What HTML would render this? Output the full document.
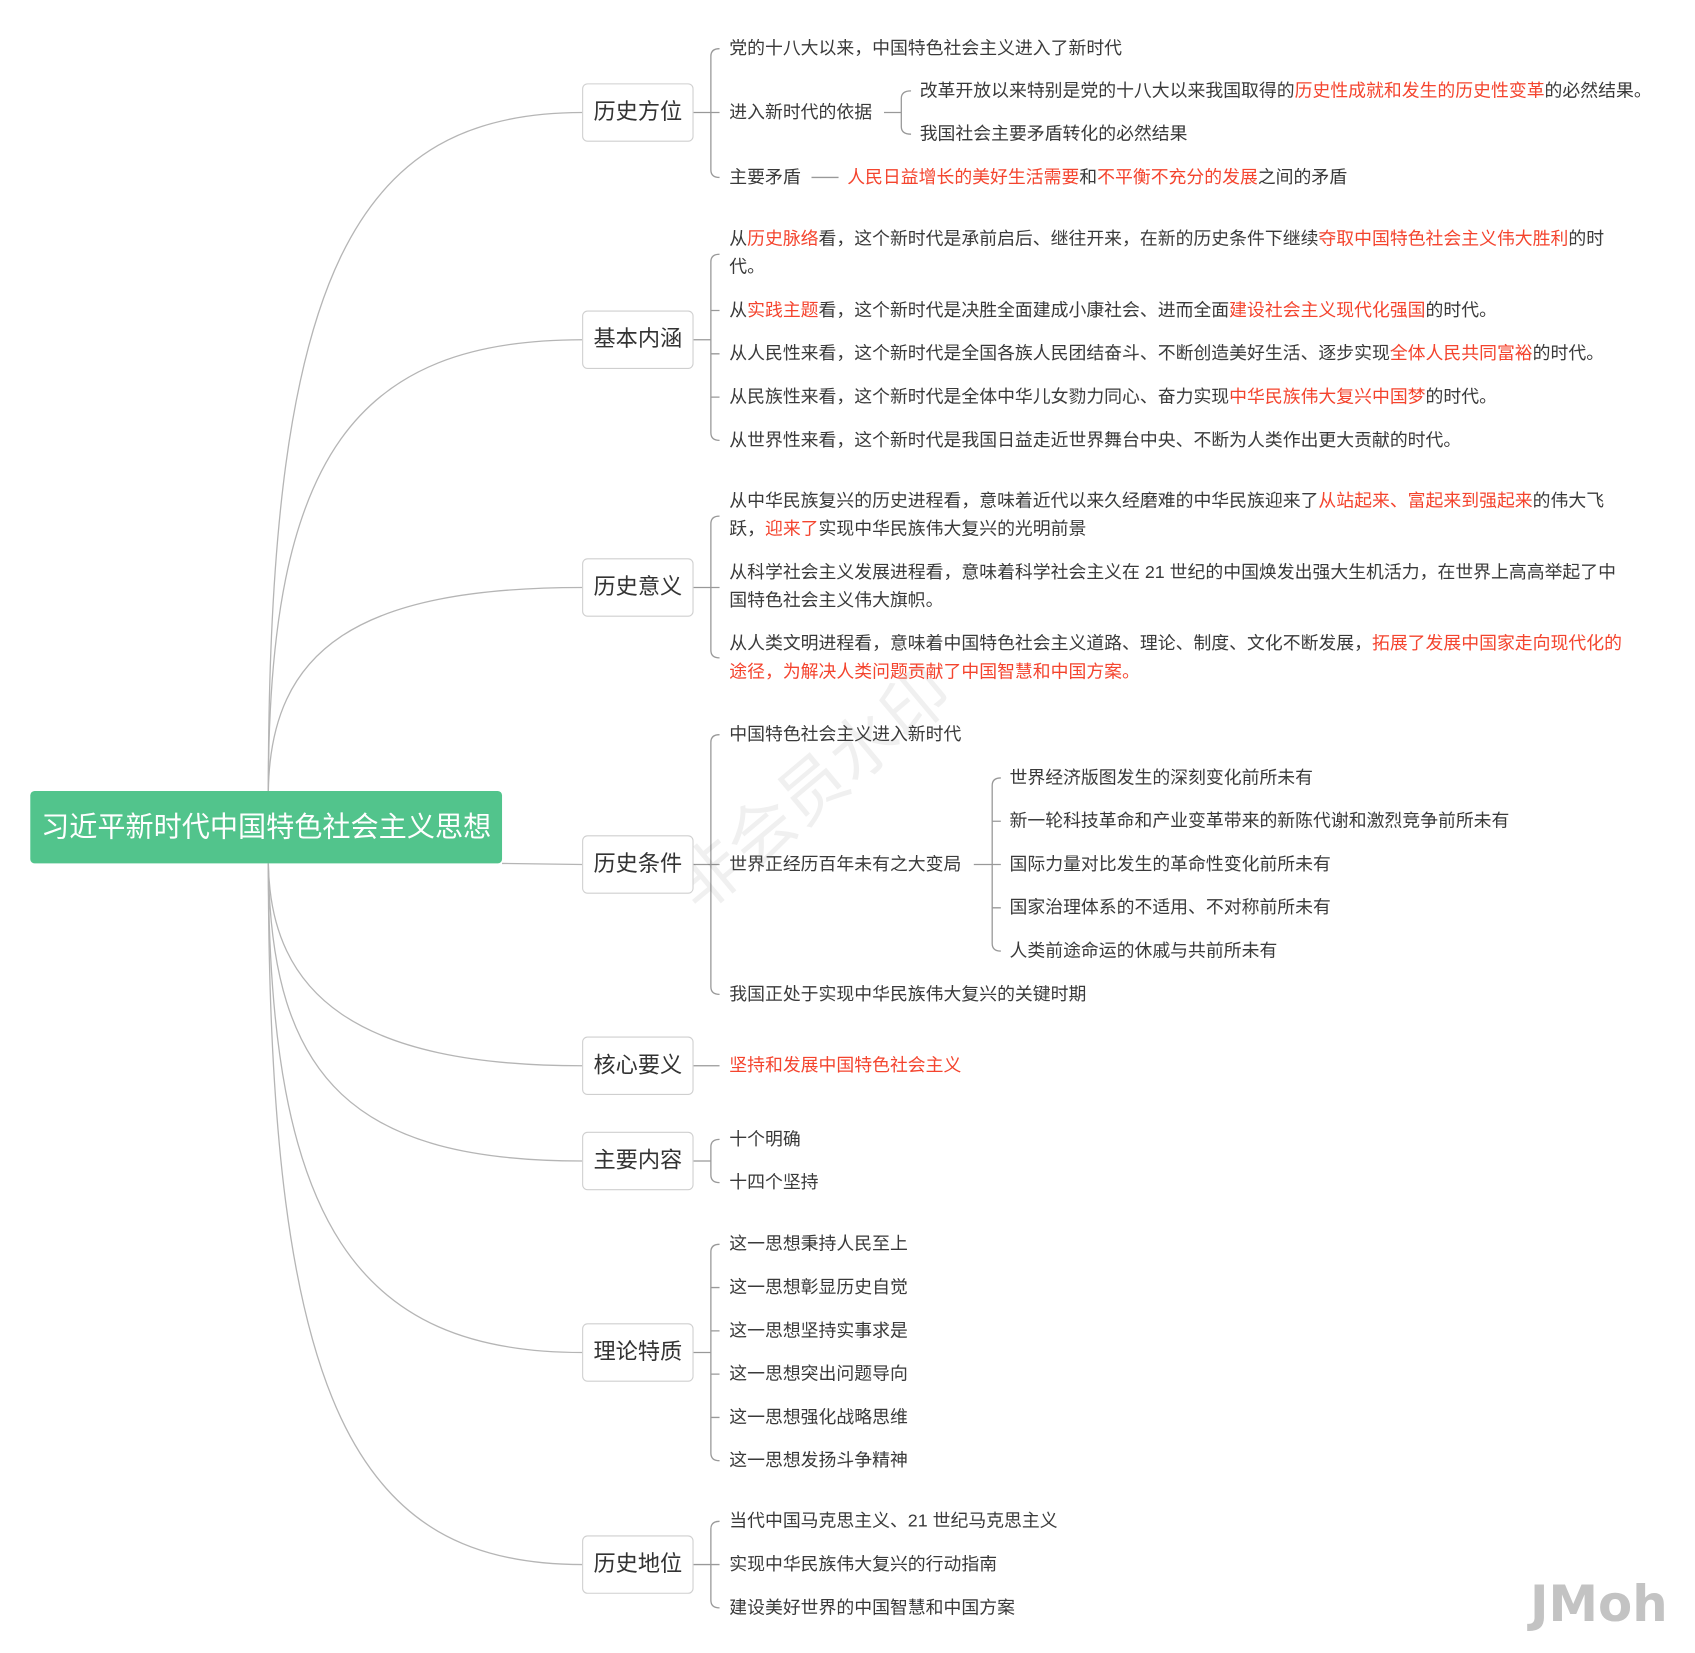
<!DOCTYPE html>
<html><head><meta charset="utf-8">
<style>
html,body{margin:0;padding:0;background:#fff;}
body{width:1695px;height:1653px;overflow:hidden;position:relative;}
#w{position:absolute;left:0;top:0;width:1560px;height:1522px;transform:scale(1.082);transform-origin:0 0;font-family:"Liberation Sans","Noto Sans CJK SC",sans-serif;}
svg{position:absolute;left:0;top:0;}
.t{position:absolute;font-size:16.5px;line-height:26px;color:#3a3a3a;white-space:nowrap;}
.r{color:#f4442e;}
.n{position:absolute;left:538px;width:101px;height:52px;border:1px solid #cfcfcf;border-radius:5px;background:#fff;font-size:20.5px;line-height:52px;text-align:center;color:#333;}
#root{position:absolute;left:28px;top:731px;width:436px;height:67px;background:#52c48c;border-radius:4px;color:#fff;font-size:26px;line-height:67px;text-align:center;}
#wm{position:absolute;left:600px;top:790px;font-size:62px;color:rgba(0,0,0,0.06);transform:rotate(-40deg);transform-origin:0 0;white-space:nowrap;}
#jm{position:absolute;left:1414px;top:1455px;font-size:46px;font-weight:bold;color:#c3c3c3;font-family:"DejaVu Sans","Liberation Sans",sans-serif;}
</style></head><body><div id="w">
<svg width="1560" height="1522" fill="none" stroke="#b5b5b5" stroke-width="1.2">
<path d="M248,731 C248,250 330,104 538,104"/>
<path d="M248,731 C248,420 330,314 538,314"/>
<path d="M248,731 C250,600 330,543 538,543"/>
<path d="M464,798 L538,799"/>
<path d="M248,798 C250,920 330,985 538,985"/>
<path d="M248,798 C250,1000 330,1073 538,1073"/>
<path d="M248,798 C248,1130 330,1250 538,1250"/>
<path d="M248,798 C248,1300 330,1446 538,1446"/>
<g stroke="#999">
<path d="M641,104 L657,104 M665,45 Q657,45 657,52 L657,157 Q657,164 665,164 M657,104 L665,104"/>
<path d="M817,104 L833,104 M842,84 Q833,84 833,91 L833,117 Q833,124 842,124"/>
<path d="M750,164 L775,164"/>
<path d="M641,314 L657,314 M665,235 Q657,235 657,242 L657,400 Q657,407 665,407 M657,287 L665,287 M657,327 L665,327 M657,367 L665,367"/>
<path d="M641,543 L657,543 M665,477 Q657,477 657,484 L657,601 Q657,608 665,608 M657,543 L665,543"/>
<path d="M641,799 L657,799 M665,679 Q657,679 657,686 L657,912 Q657,919 665,919 M657,799 L665,799"/>
<path d="M900,799 L917,799 M925,719 Q917,719 917,726 L917,872 Q917,879 925,879 M917,759 L925,759 M917,799 L925,799 M917,839 L925,839"/>
<path d="M641,985 L665,985"/>
<path d="M641,1073 L657,1073 M665,1053 Q657,1053 657,1060 L657,1086 Q657,1093 665,1093"/>
<path d="M641,1250 L657,1250 M665,1150 Q657,1150 657,1157 L657,1343 Q657,1350 665,1350 M657,1190 L665,1190 M657,1230 L665,1230 M657,1270 L665,1270 M657,1310 L665,1310"/>
<path d="M641,1446 L657,1446 M665,1406 Q657,1406 657,1413 L657,1479 Q657,1486 665,1486 M657,1446 L665,1446"/>
</g>
</svg>
<div id="wm">非会员水印</div>
<div id="root">习近平新时代中国特色社会主义思想</div>
<div class="n" style="top:77px">历史方位</div>
<div class="n" style="top:287px">基本内涵</div>
<div class="n" style="top:516px">历史意义</div>
<div class="n" style="top:772px">历史条件</div>
<div class="n" style="top:958px">核心要义</div>
<div class="n" style="top:1046px">主要内容</div>
<div class="n" style="top:1223px">理论特质</div>
<div class="n" style="top:1419px">历史地位</div>

<div class="t" style="left:674px;top:32px">党的十八大以来，中国特色社会主义进入了新时代</div>
<div class="t" style="left:674px;top:91px">进入新时代的依据</div>
<div class="t" style="left:850px;top:71px">改革开放以来特别是党的十八大以来我国取得的<span class="r">历史性成就和发生的历史性变革</span>的必然结果。</div>
<div class="t" style="left:850px;top:111px">我国社会主要矛盾转化的必然结果</div>
<div class="t" style="left:674px;top:151px">主要矛盾</div>
<div class="t" style="left:783px;top:151px"><span class="r">人民日益增长的美好生活需要</span>和<span class="r">不平衡不充分的发展</span>之间的矛盾</div>

<div class="t" style="left:674px;top:208px">从<span class="r">历史脉络</span>看，这个新时代是承前启后、继往开来，在新的历史条件下继续<span class="r">夺取中国特色社会主义伟大胜利</span>的时<br>代。</div>
<div class="t" style="left:674px;top:274px">从<span class="r">实践主题</span>看，这个新时代是决胜全面建成小康社会、进而全面<span class="r">建设社会主义现代化强国</span>的时代。</div>
<div class="t" style="left:674px;top:314px">从人民性来看，这个新时代是全国各族人民团结奋斗、不断创造美好生活、逐步实现<span class="r">全体人民共同富裕</span>的时代。</div>
<div class="t" style="left:674px;top:354px">从民族性来看，这个新时代是全体中华儿女勠力同心、奋力实现<span class="r">中华民族伟大复兴中国梦</span>的时代。</div>
<div class="t" style="left:674px;top:394px">从世界性来看，这个新时代是我国日益走近世界舞台中央、不断为人类作出更大贡献的时代。</div>

<div class="t" style="left:674px;top:450px">从中华民族复兴的历史进程看，意味着近代以来久经磨难的中华民族迎来了<span class="r">从站起来、富起来到强起来</span>的伟大飞<br>跃，<span class="r">迎来了</span>实现中华民族伟大复兴的光明前景</div>
<div class="t" style="left:674px;top:516px">从科学社会主义发展进程看，意味着科学社会主义在 21 世纪的中国焕发出强大生机活力，在世界上高高举起了中<br>国特色社会主义伟大旗帜。</div>
<div class="t" style="left:674px;top:582px">从人类文明进程看，意味着中国特色社会主义道路、理论、制度、文化不断发展，<span class="r">拓展了发展中国家走向现代化的<br>途径，为解决人类问题贡献了中国智慧和中国方案。</span></div>

<div class="t" style="left:674px;top:666px">中国特色社会主义进入新时代</div>
<div class="t" style="left:674px;top:786px">世界正经历百年未有之大变局</div>
<div class="t" style="left:933px;top:706px">世界经济版图发生的深刻变化前所未有</div>
<div class="t" style="left:933px;top:746px">新一轮科技革命和产业变革带来的新陈代谢和激烈竞争前所未有</div>
<div class="t" style="left:933px;top:786px">国际力量对比发生的革命性变化前所未有</div>
<div class="t" style="left:933px;top:826px">国家治理体系的不适用、不对称前所未有</div>
<div class="t" style="left:933px;top:866px">人类前途命运的休戚与共前所未有</div>
<div class="t" style="left:674px;top:906px">我国正处于实现中华民族伟大复兴的关键时期</div>

<div class="t r" style="left:674px;top:972px">坚持和发展中国特色社会主义</div>
<div class="t" style="left:674px;top:1040px">十个明确</div>
<div class="t" style="left:674px;top:1080px">十四个坚持</div>

<div class="t" style="left:674px;top:1137px">这一思想秉持人民至上</div>
<div class="t" style="left:674px;top:1177px">这一思想彰显历史自觉</div>
<div class="t" style="left:674px;top:1217px">这一思想坚持实事求是</div>
<div class="t" style="left:674px;top:1257px">这一思想突出问题导向</div>
<div class="t" style="left:674px;top:1297px">这一思想强化战略思维</div>
<div class="t" style="left:674px;top:1337px">这一思想发扬斗争精神</div>

<div class="t" style="left:674px;top:1393px">当代中国马克思主义、21 世纪马克思主义</div>
<div class="t" style="left:674px;top:1433px">实现中华民族伟大复兴的行动指南</div>
<div class="t" style="left:674px;top:1473px">建设美好世界的中国智慧和中国方案</div>
<div id="jm">JMoh</div>
</div></body></html>
